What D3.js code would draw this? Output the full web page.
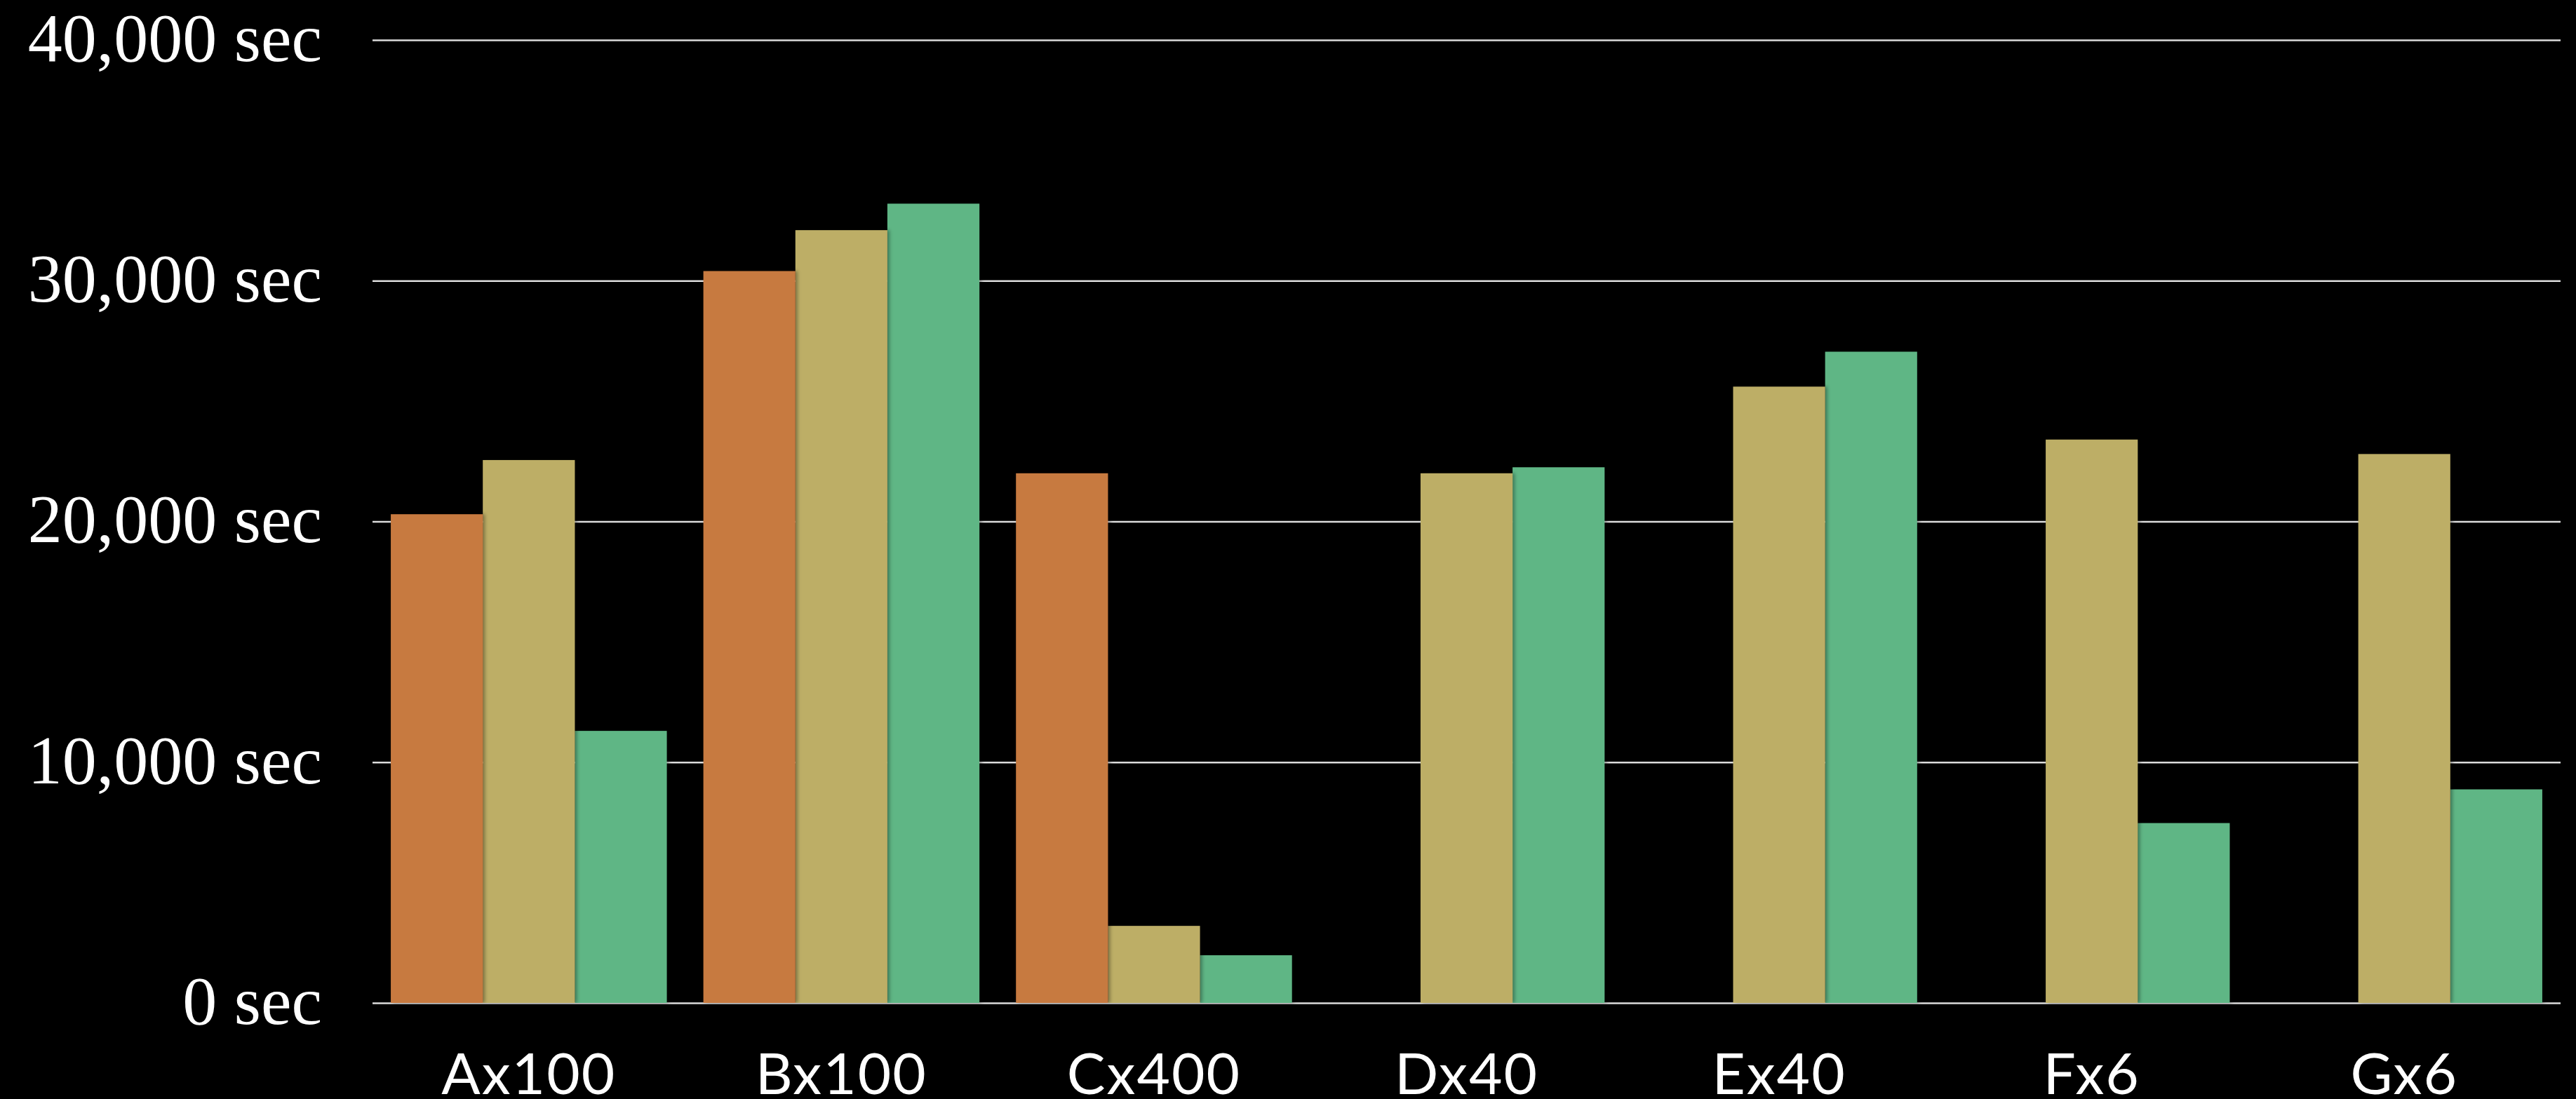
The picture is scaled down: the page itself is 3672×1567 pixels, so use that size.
<!DOCTYPE html>
<html>
<head>
<meta charset="utf-8">
<script src="https://cdn.jsdelivr.net/npm/d3@7"></script>
<style>
  html, body { margin: 0; padding: 0; background: #000; }
  svg { display: block; }
</style>
</head>
<body>
<svg id="chart" width="3672" height="1567"></svg>
<script>
const categories = ["Ax100", "Bx100", "Cx400", "Dx40", "Ex40", "Fx6", "Gx6"];
const seriesNames = ["Series 1", "Series 2", "Series 3"];
const series1 = [20300, 30400, 22000, null, null, null, null];
const series2 = [22550, 32100, 3200, 22000, 25600, 23400, 22800];
const series3 = [11300, 33200, 1980, 22250, 27050, 7470, 8870];
const yTicks = [0, 10000, 20000, 30000, 40000];
const colors = ["#C77A40", "#BDAE66", "#5EB685"];

(function () {
const W = 3672, H = 1567;
const mLeft = 531, mRight = 3650, mTop = 57, mBottom = 1430;

const svg = d3.select("#chart");
svg.append("rect").attr("width", W).attr("height", H).attr("fill", "#000");

const defs = svg.append("defs");
const f = defs.append("filter").attr("id", "shadow")
  .attr("x", "-10%").attr("y", "-5%").attr("width", "130%").attr("height", "110%");
f.append("feDropShadow").attr("dx", 3).attr("dy", 0).attr("stdDeviation", 2.5)
  .attr("flood-color", "#000").attr("flood-opacity", 0.35);

const x = d3.scaleBand().domain(categories).range([mLeft, mRight])
  .paddingInner(0.117).paddingOuter(0.0585);
const xs = d3.scaleBand().domain(seriesNames).range([0, x.bandwidth()]).padding(0);
const y = d3.scaleLinear().domain([0, 40000]).range([mBottom, mTop]);

// y axis with grid lines
const yAxis = d3.axisLeft(y).tickValues(yTicks)
  .tickFormat(d => d3.format(",")(d) + " sec")
  .tickSizeInner(-(mRight - mLeft)).tickSizeOuter(0).tickPadding(72);
const gy = svg.append("g").attr("transform", `translate(${mLeft},0)`).call(yAxis);
gy.select(".domain").remove();
gy.selectAll(".tick line").attr("stroke", "#dcdcdc").attr("stroke-width", 2.5);
gy.selectAll(".tick text")
  .attr("fill", "#fff")
  .attr("font-family", "'Liberation Serif', 'Times New Roman', serif")
  .attr("font-size", 98)
  .attr("dy", "0.30em");

// bars
const allSeries = [series1, series2, series3];
const rows = [];
categories.forEach((c, i) => {
  allSeries.forEach((s, j) => {
    if (s[i] != null) rows.push({cat: c, name: seriesNames[j], value: s[i], idx: j});
  });
});
rows.sort((a, b) => b.idx - a.idx);
svg.append("g").selectAll("rect").data(rows).join("rect")
  .attr("x", d => x(d.cat) + xs(d.name))
  .attr("y", d => y(d.value))
  .attr("width", xs.bandwidth())
  .attr("height", d => y(0) - y(d.value))
  .attr("fill", d => colors[d.idx])
  .attr("filter", "url(#shadow)");

// x axis labels
const xAxis = d3.axisBottom(x).tickSize(0).tickPadding(72);
const gx = svg.append("g").attr("transform", `translate(0,${mBottom})`).call(xAxis);
gx.select(".domain").remove();
gx.selectAll(".tick text")
  .attr("fill", "#fff")
  .attr("font-family", "Lato, 'Open Sans', sans-serif")
  .attr("font-size", 82)
  .attr("letter-spacing", 2);
})();
</script>
</body>
</html>
